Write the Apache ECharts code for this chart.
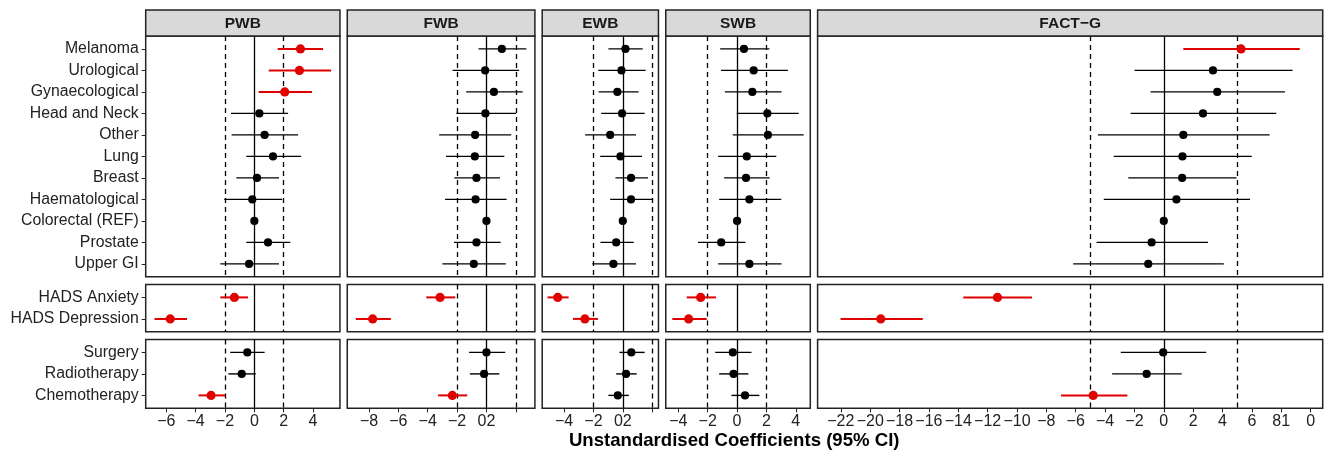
<!DOCTYPE html>
<html>
<head>
<meta charset="utf-8">
<script src="https://cdn.jsdelivr.net/npm/echarts@6/dist/echarts.min.js"></script>
<style>
html,body{margin:0;padding:0;background:#fff;}
#chart{width:1331px;height:452px;}
</style>
</head>
<body>
<div id="chart"></div>
<script>
// ---------- data ----------
const cancers = ['Melanoma','Urological','Gynaecological','Head and Neck','Other','Lung','Breast','Haematological','Colorectal (REF)','Prostate','Upper GI'];
const hads = ['HADS Anxiety','HADS Depression'];
const treatments = ['Surgery','Radiotherapy','Chemotherapy'];
const outcomes = ['PWB','FWB','EWB','SWB','FACT\u2212G'];

// order: 11 cancers, 2 HADS, 3 treatments
const pwbEst = [3.14, 3.07, 2.07, 0.34, 0.70, 1.27, 0.18, -0.14, 0, 0.93, -0.36, -1.36, -5.73, -0.48, -0.86, -2.95];
const pwbLo  = [1.59, 0.98, 0.29, -1.59, -1.55, -0.55, -1.23, -2.05, 0, -0.55, -2.32, -2.32, -6.80, -1.64, -1.77, -3.80];
const pwbHi  = [4.68, 5.23, 3.93, 2.30, 2.98, 3.18, 1.68, 1.89, 0, 2.45, 1.68, -0.43, -4.59, 0.70, 0.09, -1.98];

const fwbEst = [1.05, -0.09, 0.51, -0.07, -0.77, -0.79, -0.68, -0.74, 0, -0.68, -0.86, -3.16, -7.75, 0.0, -0.16, -2.32];
const fwbLo  = [-0.54, -2.30, -1.38, -2.05, -3.22, -2.75, -2.19, -2.82, 0, -2.21, -3.00, -4.10, -8.90, -1.18, -1.13, -3.29];
const fwbHi  = [2.72, 2.23, 2.47, 2.03, 1.69, 1.22, 0.92, 1.37, 0, 0.97, 1.32, -2.12, -6.51, 1.28, 0.88, -1.31];

const ewbEst = [0.18, -0.09, -0.37, -0.05, -0.86, -0.16, 0.56, 0.56, 0, -0.45, -0.64, -4.43, -2.58, 0.58, 0.22, -0.34];
const ewbLo  = [-0.98, -1.67, -1.65, -1.47, -2.56, -1.54, -0.50, -0.86, 0, -1.52, -2.08, -5.13, -3.39, -0.23, -0.45, -0.98];
const ewbHi  = [1.36, 1.56, 1.08, 1.49, 0.90, 1.31, 1.72, 2.07, 0, 0.75, 0.90, -3.69, -1.69, 1.49, 0.95, 0.41];

const swbEst = [0.47, 1.13, 1.04, 2.06, 2.10, 0.66, 0.61, 0.84, 0, -1.08, 0.84, -2.48, -3.30, -0.29, -0.24, 0.54];
const swbLo  = [-1.15, -1.10, -0.83, -0.02, -0.29, -1.29, -0.88, -1.22, 0, -2.66, -1.29, -3.43, -4.41, -1.49, -1.22, -0.38];
const swbHi  = [2.20, 3.46, 3.03, 4.20, 4.54, 2.67, 2.22, 3.01, 0, 0.57, 3.03, -1.44, -2.07, 0.98, 0.77, 1.52];

const factgEst = [5.26, 3.35, 3.64, 2.67, 1.33, 1.27, 1.25, 0.86, 0, -0.83, -1.06, -11.33, -19.28, -0.04, -1.17, -4.81];
const factgLo  = [1.33, -1.99, -0.90, -2.26, -4.49, -3.41, -2.42, -4.09, 0, -4.58, -6.17, -13.66, -22.02, -2.93, -3.52, -7.00];
const factgHi  = [9.26, 8.77, 8.25, 7.66, 7.21, 5.99, 4.95, 5.87, 0, 3.01, 4.09, -8.98, -16.42, 2.89, 1.22, -2.48];

// tick values and tick labels (as printed in the reference)
const pwbTicks = [-6, -4, -2, 0, 2, 4];
const pwbTickLabels = ['\u22126', '\u22124', '\u22122', '0', '2', '4'];
const fwbTicks = [-8, -6, -4, -2, 0, 2];
const fwbTickLabels = ['\u22128', '\u22126', '\u22124', '\u22122', '02', ''];
const ewbTicks = [-4, -2, 0, 2];
const ewbTickLabels = ['\u22124', '\u22122', '02', ''];
const swbTicks = [-4, -2, 0, 2, 4];
const swbTickLabels = ['\u22124', '\u22122', '0', '2', '4'];
const factgTicks = [-22, -20, -18, -16, -14, -12, -10, -8, -6, -4, -2, 0, 2, 4, 6, 8, 10];
const factgTickLabels = ['\u221222', '\u221220', '\u221218', '\u221216', '\u221214', '\u221212', '\u221210', '\u22128', '\u22126', '\u22124', '\u22122', '0', '2', '4', '6', '81', '0'];

// dashed reference lines at +/- value
const refLines = [2, 2, 2, 2, 5];

// ---------- assembly ----------
const est = [pwbEst, fwbEst, ewbEst, swbEst, factgEst];
const lo = [pwbLo, fwbLo, ewbLo, swbLo, factgLo];
const hi = [pwbHi, fwbHi, ewbHi, swbHi, factgHi];
const ticks = [pwbTicks, fwbTicks, ewbTicks, swbTicks, factgTicks];
const tickLabels = [pwbTickLabels, fwbTickLabels, ewbTickLabels, swbTickLabels, factgTickLabels];
const groups = [cancers, hads, treatments];
const groupStart = [0, cancers.length, cancers.length + hads.length];

const RED = '#E00000', BLACK = '#000000', INK = '#222222';
const FONT = '"Liberation Sans", Arial, Helvetica, sans-serif';

// layout
const LEFT = 145.7, RIGHT = 1322.7, HGAP = 7.3;
const STRIP_TOP = 10, BODY_TOP = 36, BOTTOM = 408.3, VGAP = 7.7;

// x ranges with 5% expansion
const xr = outcomes.map((o, c) => {
  const vals = lo[c].concat(hi[c]).concat([-refLines[c], refLines[c]]);
  const mn = Math.min(...vals), mx = Math.max(...vals);
  const pad = (mx - mn) * 0.05;
  return [mn - pad, mx + pad];
});
const spanSum = xr.reduce((s, r) => s + (r[1] - r[0]), 0);
const pxPerUnit = (RIGHT - LEFT - HGAP * 4) / spanSum;
const colX = [], colW = [];
let cx = LEFT;
xr.forEach(r => { colX.push(cx); const w = (r[1] - r[0]) * pxPerUnit; colW.push(w); cx += w + HGAP; });

const rowUnits = groups.map(g => g.length + 0.2);
const unitSum = rowUnits.reduce((a, b) => a + b, 0);
const pxPerRow = (BOTTOM - BODY_TOP - VGAP * 2) / unitSum;
const rowY = [], rowH = [];
let cy = BODY_TOP;
rowUnits.forEach(u => { rowY.push(cy); const h = u * pxPerRow; rowH.push(h); cy += h + VGAP; });

const grid = [], xAxis = [], yAxis = [], series = [], graphic = [];

groups.forEach((g, r) => {
  outcomes.forEach((o, c) => {
    const idx = r * outcomes.length + c;
    const isBottom = r === groups.length - 1;
    const isLeft = c === 0;
    grid.push({
      left: colX[c], top: rowY[r], width: colW[c], height: rowH[r],
      show: true, borderColor: INK, borderWidth: 1.5, backgroundColor: 'transparent'
    });
    xAxis.push({
      type: 'value', gridIndex: idx, min: xr[c][0], max: xr[c][1], position: 'bottom',
      axisLine: { show: false, onZero: false },
      splitLine: { show: false },
      axisTick: { show: isBottom, length: 4, lineStyle: { color: INK, width: 1 }, customValues: ticks[c] },
      axisLabel: {
        show: isBottom, customValues: ticks[c], margin: 5,
        fontFamily: FONT, fontSize: 16, color: INK,
        formatter: v => { const k = ticks[c].indexOf(v); return k >= 0 ? tickLabels[c][k] : ''; }
      }
    });
    const idxs = g.map((_, i) => i);
    yAxis.push({
      type: 'value', gridIndex: idx, inverse: true, min: -0.6, max: g.length - 0.4, position: 'left',
      axisLine: { show: false, onZero: false },
      splitLine: { show: false },
      axisTick: { show: isLeft, length: 4, lineStyle: { color: INK, width: 1 }, customValues: idxs },
      axisLabel: {
        show: isLeft, customValues: idxs, margin: 7,
        fontFamily: FONT, fontSize: 15.8, color: INK,
        formatter: v => g[v] !== undefined ? g[v] : ''
      }
    });
    // reference lines
    const d = refLines[c];
    series.push({
      type: 'line', xAxisIndex: idx, yAxisIndex: idx, data: [], silent: true,
      markLine: {
        symbol: 'none', silent: true, label: { show: false }, animation: false,
        data: [
          { xAxis: 0, lineStyle: { type: 'solid', color: BLACK, width: 1.3 } },
          { xAxis: -d, lineStyle: { type: [5, 4], color: BLACK, width: 1.3 } },
          { xAxis: d, lineStyle: { type: [5, 4], color: BLACK, width: 1.3 } }
        ]
      }
    });
    // estimates with CIs
    const s0 = groupStart[r];
    const data = g.map((name, i) => {
      const l = lo[c][s0 + i], h = hi[c][s0 + i], e = est[c][s0 + i];
      const sig = (l > 0 || h < 0) ? 1 : 0;
      return [l, h, e, i, sig];
    });
    series.push({
      type: 'custom', xAxisIndex: idx, yAxisIndex: idx, data: data, z: 5,
      encode: { x: [0, 1, 2], y: 3 },
      renderItem: (params, api) => {
        const p1 = api.coord([api.value(0), api.value(3)]);
        const p2 = api.coord([api.value(1), api.value(3)]);
        const pc = api.coord([api.value(2), api.value(3)]);
        const sig = api.value(4) === 1;
        const col = sig ? RED : BLACK;
        return {
          type: 'group', children: [
            { type: 'line', shape: { x1: p1[0], y1: p1[1], x2: p2[0], y2: p2[1] }, style: { stroke: col, lineWidth: sig ? 2 : 1.4 } },
            { type: 'circle', shape: { cx: pc[0], cy: pc[1], r: sig ? 4.6 : 4.1 }, style: { fill: col } }
          ]
        };
      }
    });
  });
});

// strips
outcomes.forEach((o, c) => {
  graphic.push({
    type: 'rect', shape: { x: colX[c], y: STRIP_TOP, width: colW[c], height: BODY_TOP - STRIP_TOP },
    style: { fill: '#D9D9D9', stroke: INK, lineWidth: 1.5 }, z: 10
  });
  graphic.push({
    type: 'text', x: colX[c] + colW[c] / 2, y: (STRIP_TOP + BODY_TOP) / 2 + 0.5, z: 11,
    style: { text: o, align: 'center', verticalAlign: 'middle', fontFamily: FONT, fontWeight: 'bold', fontSize: 15.5, fill: '#1a1a1a' }
  });
});
// axis title
graphic.push({
  type: 'text', x: (LEFT + RIGHT) / 2, y: 441, z: 11,
  style: { text: 'Unstandardised Coefficients (95% CI)', align: 'center', verticalAlign: 'middle', fontFamily: FONT, fontWeight: 'bold', fontSize: 18.6, fill: '#000' }
});

const chart = echarts.init(document.getElementById('chart'), null, { renderer: 'canvas' });
chart.setOption({
  animation: false,
  backgroundColor: '#ffffff',
  grid, xAxis, yAxis, series, graphic
});
</script>
</body>
</html>
